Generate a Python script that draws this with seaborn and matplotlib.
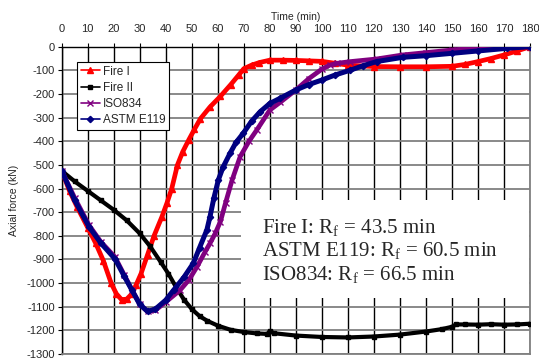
import numpy as np
import pandas as pd
import seaborn as sns
import matplotlib.pyplot as plt
from matplotlib.patches import Rectangle

# Fire I
t_fire1 = [0, 3, 6, 10, 13, 16, 19, 21, 23, 25, 27, 28.5, 30.5, 33, 35.5, 38.5, 40.5, 42.3,
           44.5, 46.5, 48.8, 51, 53.3, 57, 61, 65, 68, 70, 73, 76, 80, 85, 90, 95, 100, 105,
           110, 120, 130, 140, 150, 155, 160, 165, 170, 175, 180]
f_fire1 = [-525, -610, -680, -765, -830, -905, -1000, -1045, -1070, -1068, -1045, -1010, -960,
           -880, -800, -720, -660, -600, -500, -445, -395, -350, -305, -255, -210, -160, -120,
           -93, -78, -67, -57, -57, -58, -60, -62, -70, -78, -84, -85, -85, -83, -75, -63, -50,
           -35, -18, 0]

# Fire II
t_fire2 = [0, 5, 10, 15, 20, 25, 30, 34, 38, 41, 44, 47, 50, 53, 56, 60, 65, 70, 75, 79, 80,
           81.5, 90, 100, 110, 120, 130, 140, 146, 150, 151.5, 155, 160, 165, 170, 175, 180]
f_fire2 = [-525, -570, -610, -650, -690, -735, -790, -845, -910, -960, -1018, -1070, -1110,
           -1140, -1160, -1180, -1198, -1207, -1213, -1215, -1203, -1212, -1222, -1228, -1230,
           -1226, -1218, -1205, -1195, -1185, -1175, -1175, -1176, -1174, -1176, -1175, -1172]

# ISO834
t_iso = [0, 5, 10.5, 15, 20.5, 24, 27, 30, 33, 36, 40, 45.5, 49, 52, 55, 57, 59, 61, 63, 65.5,
         68.6, 72, 75, 80, 84, 90, 95, 100, 103, 106, 111, 121, 131, 140, 150, 160, 165, 171,
         176, 180]
f_iso = [-525, -640, -755, -825, -890, -965, -1028, -1090, -1120, -1115, -1080, -1030, -985,
         -931, -870, -832, -790, -740, -660, -564, -465, -400, -352, -268, -235, -183, -135,
         -95, -78, -70, -63, -52, -35, -25, -14, -4, 2, 5, 3, 0]

# ASTM E119
t_astm = [0, 5, 10.5, 15, 20.5, 24, 27, 30, 33, 36, 40, 43, 47, 50.6, 53, 55.8, 57, 58.5, 60.2,
          62, 64.7, 67, 69.8, 73, 76.3, 80, 84, 90, 95, 100, 105, 111, 116, 121, 131, 140, 150,
          160, 171, 180]
f_astm = [-525, -650, -762, -830, -898, -970, -1030, -1090, -1120, -1110, -1072, -1030, -975,
          -916, -850, -775, -719, -640, -564, -510, -451, -405, -366, -315, -275, -240, -218,
          -183, -160, -141, -120, -99, -80, -63, -45, -38, -28, -18, -7, 0]

x_ticks = list(range(0, 181, 10))
y_ticks = list(range(0, -1301, -100))
notes = [r"Fire I: R$_{\rm f}$ = 43.5 min",
         r"ASTM E119: R$_{\rm f}$ = 60.5 min",
         r"ISO834: R$_{\rm f}$ = 66.5 min"]

sns.set_style("white")
plt.rcParams['font.family'] = ['Liberation Sans', 'DejaVu Sans']
plt.rcParams['axes.unicode_minus'] = False
plt.rcParams['mathtext.fontset'] = 'custom'
plt.rcParams['mathtext.rm'] = 'Liberation Serif'

fig, ax = plt.subplots(figsize=(5.39, 3.63), dpi=100)
fig.subplots_adjust(left=61.7 / 539, right=530 / 539, top=1 - 46.7 / 363, bottom=1 - 354 / 363)

series = [
    ("Fire I", t_fire1, f_fire1, "#FF0000", "^", 4.5, 3.4),
    ("Fire II", t_fire2, f_fire2, "black", "s", 2.2, 3.0),
    ("ISO834", t_iso, f_iso, "#800080", "x", 4, 3.4),
    ("ASTM E119", t_astm, f_astm, "#000080", "D", 3.2, 3.6),
]
for name, t, f, c, m, ms, lw in series:
    df = pd.DataFrame({"t": t, "f": f})
    sns.lineplot(data=df, x="t", y="f", ax=ax, color=c, marker=m, markersize=ms,
                 markeredgecolor=c, markeredgewidth=1, linewidth=lw, label=name,
                 sort=False, zorder=3)

ax.set_xlim(0, 180)
ax.set_ylim(-1300, 0)
ax.xaxis.tick_top()
ax.xaxis.set_label_position("top")
ax.set_xticks(x_ticks)
ax.set_yticks(y_ticks)
ax.tick_params(axis="both", labelsize=8, length=3, width=0.8, color="black", pad=2,
               direction="out")
ax.tick_params(axis="x", top=True, bottom=False, pad=6)
ax.tick_params(axis="y", left=True)
ax.set_xlabel("Time (min)", fontsize=7.5, labelpad=3)
ax.set_ylabel("Axial force (kN)", fontsize=7.5, labelpad=5)

ax.xaxis.grid(True, color="black", linewidth=1.0)
ax.yaxis.grid(True, color="#808080", linewidth=1.3)
ax.set_axisbelow(True)
for side in ["top", "left"]:
    ax.spines[side].set_color("black")
    ax.spines[side].set_linewidth(1.0)
for side in ["right", "bottom"]:
    ax.spines[side].set_color("#808080")
    ax.spines[side].set_linewidth(1.3)

leg = ax.legend(loc="upper left", bbox_to_anchor=(0.033, 0.950), borderaxespad=0,
                fontsize=8.5, frameon=True, fancybox=False, framealpha=1,
                edgecolor="black", handlelength=1.6, handletextpad=0.25,
                labelspacing=0.35, borderpad=0.3)
leg.get_frame().set_linewidth(0.8)
for line in leg.get_lines():
    line.set_linewidth(1.2)

ax.add_patch(Rectangle((69, -1063), 110.5, 415, facecolor="white", edgecolor="none",
                       zorder=4))
for text, yy in zip(notes, [0.394, 0.316, 0.241]):
    ax.text(0.428, yy, text, transform=ax.transAxes, fontsize=15, va="baseline",
            ha="left", family=["Liberation Serif", "DejaVu Serif"], zorder=5)

plt.savefig("out.png", dpi=100)
